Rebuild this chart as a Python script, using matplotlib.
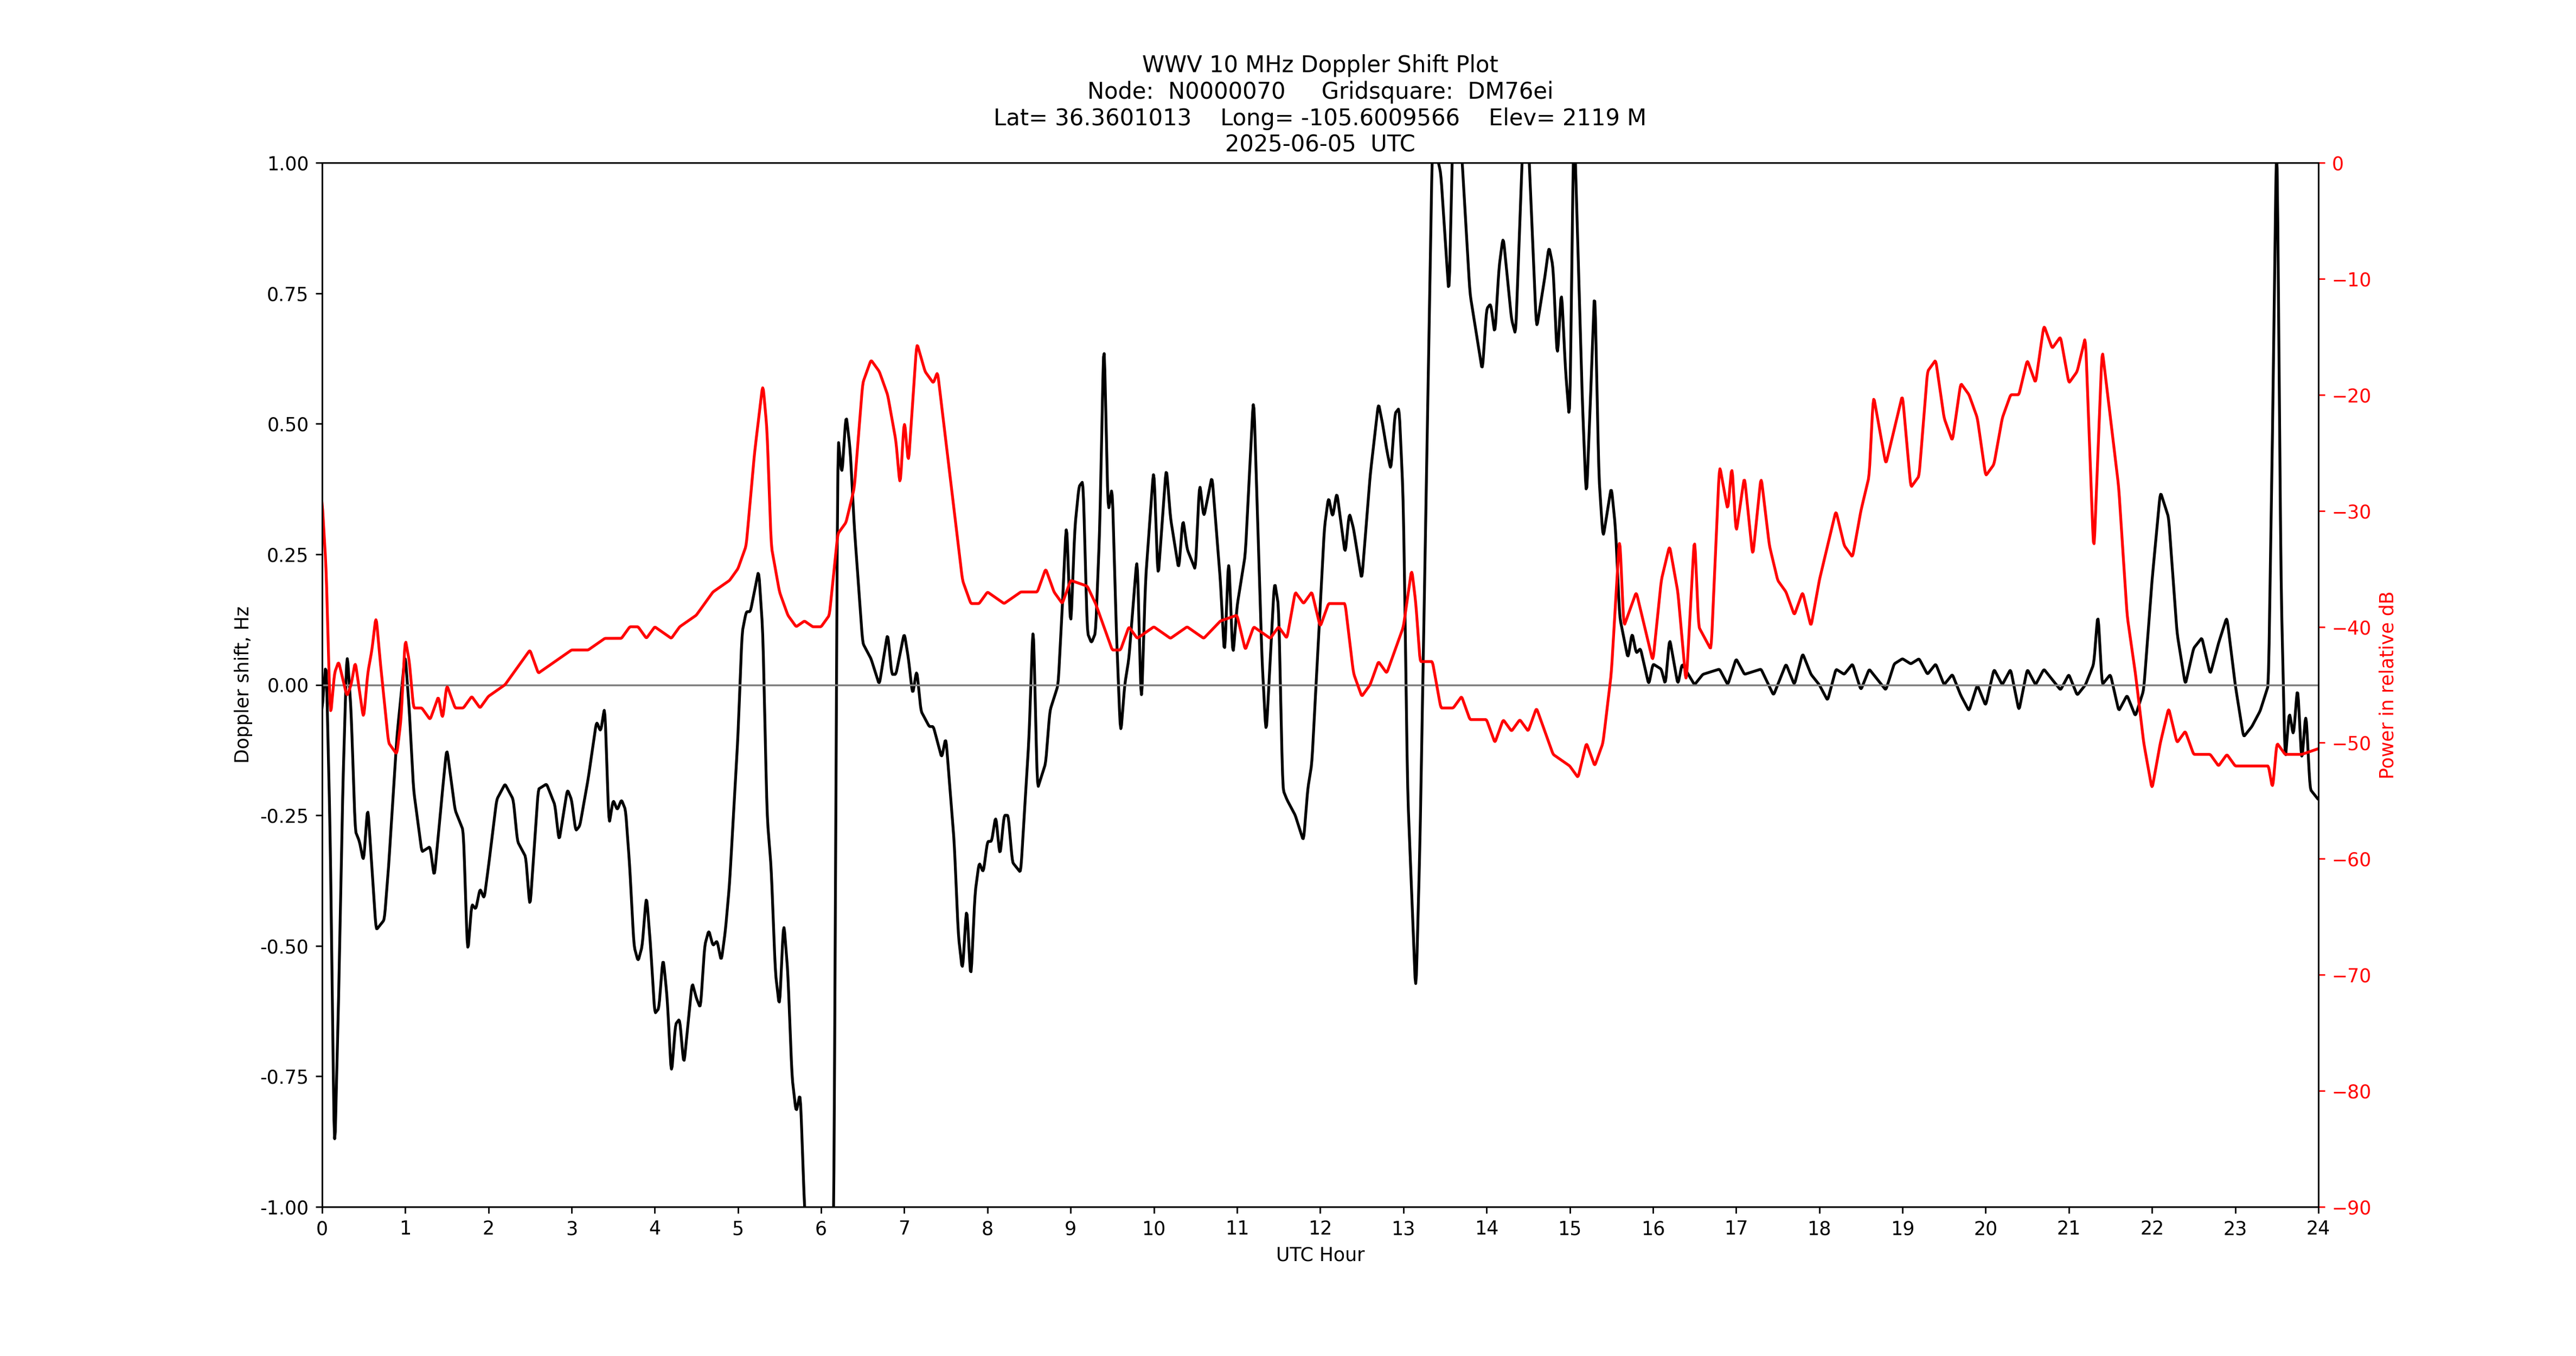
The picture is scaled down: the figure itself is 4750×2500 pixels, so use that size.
#!/usr/bin/env python3
import numpy as np
import matplotlib
matplotlib.use("Agg")
import matplotlib.pyplot as plt

# Doppler shift (Hz)
dop_hours = [0.0,0.05,0.1,0.15,0.2,0.25,0.3,0.35,0.4,0.45,0.5,0.55,0.6,0.65,0.7,0.75,0.8,0.9,1.0,1.05,1.1,1.2,1.3,1.35,1.45,1.5,1.6,1.7,1.75,1.8,1.85,1.9,1.95,2.0,2.1,2.2,2.3,2.35,2.45,2.5,2.6,2.7,2.8,2.85,2.95,3.0,3.05,3.1,3.2,3.3,3.35,3.4,3.45,3.5,3.55,3.6,3.65,3.7,3.75,3.8,3.85,3.9,3.95,4.0,4.05,4.1,4.15,4.2,4.25,4.3,4.35,4.4,4.45,4.5,4.55,4.6,4.65,4.7,4.75,4.8,4.85,4.9,5.0,5.05,5.1,5.15,5.2,5.25,5.3,5.35,5.4,5.45,5.5,5.55,5.6,5.65,5.7,5.75,5.8,5.85,6.0,6.15,6.2,6.25,6.3,6.35,6.4,6.5,6.6,6.7,6.8,6.85,6.9,7.0,7.05,7.1,7.15,7.2,7.3,7.35,7.45,7.5,7.55,7.6,7.65,7.7,7.75,7.8,7.85,7.9,7.95,8.0,8.05,8.1,8.15,8.2,8.25,8.3,8.4,8.5,8.55,8.6,8.7,8.75,8.85,8.9,8.95,9.0,9.05,9.1,9.15,9.2,9.25,9.3,9.35,9.4,9.45,9.5,9.55,9.6,9.65,9.7,9.8,9.85,9.9,10.0,10.05,10.15,10.2,10.3,10.35,10.4,10.5,10.55,10.6,10.7,10.8,10.85,10.9,10.95,11.0,11.1,11.2,11.3,11.35,11.45,11.5,11.55,11.6,11.7,11.8,11.85,11.9,11.95,12.0,12.05,12.1,12.15,12.2,12.3,12.35,12.4,12.5,12.6,12.7,12.75,12.8,12.85,12.9,12.95,13.0,13.05,13.15,13.2,13.3,13.35,13.45,13.55,13.6,13.7,13.8,13.85,13.95,14.0,14.05,14.1,14.15,14.2,14.3,14.35,14.45,14.5,14.6,14.7,14.75,14.8,14.85,14.9,14.95,15.0,15.05,15.15,15.2,15.25,15.3,15.35,15.4,15.5,15.55,15.6,15.7,15.75,15.8,15.85,15.95,16.0,16.1,16.15,16.2,16.3,16.35,16.5,16.6,16.8,16.9,17.0,17.1,17.3,17.45,17.6,17.7,17.8,17.9,18.0,18.1,18.2,18.3,18.4,18.5,18.6,18.8,18.9,19.0,19.1,19.2,19.3,19.4,19.5,19.6,19.7,19.8,19.9,20.0,20.1,20.2,20.3,20.4,20.5,20.6,20.7,20.9,21.0,21.1,21.2,21.3,21.35,21.4,21.5,21.6,21.7,21.8,21.9,22.0,22.1,22.2,22.3,22.4,22.5,22.6,22.7,22.8,22.9,23.0,23.1,23.2,23.3,23.4,23.45,23.5,23.55,23.6,23.65,23.7,23.75,23.8,23.85,23.9,24.0]
dop_hz = [-0.05,0.05,-0.3,-0.92,-0.6,-0.2,0.07,-0.05,-0.28,-0.3,-0.34,-0.23,-0.35,-0.47,-0.46,-0.45,-0.35,-0.1,0.06,-0.05,-0.2,-0.32,-0.31,-0.37,-0.2,-0.12,-0.24,-0.28,-0.52,-0.42,-0.43,-0.39,-0.41,-0.35,-0.22,-0.19,-0.22,-0.3,-0.33,-0.43,-0.2,-0.19,-0.23,-0.3,-0.2,-0.22,-0.28,-0.27,-0.18,-0.07,-0.09,-0.04,-0.27,-0.22,-0.24,-0.22,-0.24,-0.35,-0.5,-0.53,-0.5,-0.4,-0.5,-0.63,-0.62,-0.52,-0.6,-0.75,-0.65,-0.64,-0.73,-0.65,-0.57,-0.6,-0.62,-0.5,-0.47,-0.5,-0.49,-0.53,-0.47,-0.38,-0.1,0.1,0.14,0.14,0.18,0.22,0.1,-0.25,-0.35,-0.55,-0.62,-0.45,-0.55,-0.75,-0.82,-0.78,-1.0,-1.1,-1.2,-1.1,0.48,0.4,0.52,0.45,0.3,0.08,0.05,0.0,0.1,0.02,0.02,0.1,0.05,-0.02,0.03,-0.05,-0.08,-0.08,-0.14,-0.1,-0.2,-0.3,-0.48,-0.55,-0.42,-0.57,-0.4,-0.34,-0.36,-0.3,-0.3,-0.25,-0.33,-0.25,-0.25,-0.34,-0.36,-0.1,0.13,-0.2,-0.15,-0.05,0.0,0.15,0.32,0.1,0.3,0.38,0.39,0.1,0.08,0.1,0.3,0.68,0.33,0.38,0.1,-0.1,0.0,0.05,0.25,-0.05,0.2,0.42,0.2,0.42,0.32,0.22,0.32,0.26,0.22,0.39,0.32,0.4,0.2,0.05,0.25,0.05,0.15,0.25,0.56,0.05,-0.1,0.2,0.15,-0.2,-0.22,-0.25,-0.3,-0.2,-0.15,0.0,0.15,0.3,0.36,0.32,0.37,0.25,0.33,0.3,0.2,0.4,0.54,0.5,0.45,0.41,0.52,0.53,0.35,-0.2,-0.6,-0.3,0.6,1.05,0.98,0.74,1.1,1.02,0.75,0.7,0.6,0.72,0.73,0.67,0.8,0.86,0.7,0.67,1.1,1.05,0.68,0.78,0.84,0.8,0.62,0.76,0.6,0.5,1.1,0.55,0.35,0.55,0.77,0.4,0.28,0.38,0.3,0.13,0.05,0.1,0.06,0.07,0.0,0.04,0.03,0.0,0.09,0.0,0.04,0.0,0.02,0.03,0.0,0.05,0.02,0.03,-0.02,0.04,0.0,0.06,0.02,0.0,-0.03,0.03,0.02,0.04,-0.01,0.03,-0.01,0.04,0.05,0.04,0.05,0.02,0.04,0.0,0.02,-0.02,-0.05,0.0,-0.04,0.03,0.0,0.03,-0.05,0.03,0.0,0.03,-0.01,0.02,-0.02,0.0,0.04,0.14,0.0,0.02,-0.05,-0.02,-0.06,-0.01,0.2,0.37,0.32,0.1,0.0,0.07,0.09,0.02,0.08,0.13,0.0,-0.1,-0.08,-0.05,0.0,0.5,1.1,0.2,-0.15,-0.05,-0.1,0.0,-0.15,-0.05,-0.2,-0.22]

# Power (relative dB)
pwr_hours = [0.0,0.05,0.1,0.15,0.2,0.3,0.35,0.4,0.5,0.55,0.6,0.65,0.7,0.8,0.9,0.95,1.0,1.05,1.1,1.2,1.3,1.4,1.45,1.5,1.6,1.7,1.8,1.9,2.0,2.2,2.4,2.5,2.6,2.8,3.0,3.2,3.4,3.6,3.7,3.8,3.9,4.0,4.2,4.3,4.5,4.7,4.8,4.9,5.0,5.1,5.2,5.3,5.35,5.4,5.5,5.6,5.7,5.8,5.9,6.0,6.1,6.2,6.3,6.4,6.5,6.6,6.7,6.8,6.9,6.95,7.0,7.05,7.15,7.25,7.35,7.4,7.5,7.6,7.7,7.8,7.9,8.0,8.2,8.4,8.6,8.7,8.8,8.9,9.0,9.2,9.3,9.5,9.6,9.7,9.8,10.0,10.2,10.4,10.6,10.8,11.0,11.1,11.2,11.4,11.5,11.6,11.7,11.8,11.9,12.0,12.1,12.3,12.4,12.5,12.6,12.7,12.8,13.0,13.1,13.15,13.2,13.35,13.45,13.6,13.7,13.8,14.0,14.1,14.2,14.3,14.4,14.5,14.6,14.7,14.8,15.0,15.1,15.2,15.3,15.4,15.5,15.6,15.65,15.8,16.0,16.1,16.2,16.3,16.4,16.5,16.55,16.7,16.8,16.9,16.95,17.0,17.1,17.2,17.3,17.4,17.5,17.6,17.7,17.8,17.9,18.0,18.1,18.2,18.3,18.4,18.5,18.6,18.65,18.7,18.8,18.9,19.0,19.1,19.2,19.3,19.4,19.5,19.6,19.7,19.8,19.9,20.0,20.1,20.2,20.3,20.4,20.5,20.6,20.7,20.8,20.9,21.0,21.1,21.2,21.3,21.4,21.5,21.6,21.7,21.8,21.9,22.0,22.1,22.2,22.3,22.4,22.5,22.6,22.7,22.8,22.9,23.0,23.2,23.4,23.45,23.5,23.6,23.8,24.0]
pwr_db = [-29,-35,-48,-44,-43,-46,-45,-43,-48,-44,-42,-39,-43,-50,-51,-48,-41,-43,-47,-47,-48,-46,-48,-45,-47,-47,-46,-47,-46,-45,-43,-42,-44,-43,-42,-42,-41,-41,-40,-40,-41,-40,-41,-40,-39,-37,-36.5,-36,-35,-33,-25,-19,-23,-33,-37,-39,-40,-39.5,-40,-40,-39,-32,-31,-28,-19,-17,-18,-20,-24,-28,-22,-26,-15.5,-18,-19,-18,-24,-30,-36,-38,-38,-37,-38,-37,-37,-35,-37,-38,-36,-36.5,-38,-42,-42,-40,-41,-40,-41,-40,-41,-39.5,-39,-42,-40,-41,-40,-41,-37,-38,-37,-40,-38,-38,-44,-46,-45,-43,-44,-40,-35,-38,-43,-43,-47,-47,-46,-48,-48,-50,-48,-49,-48,-49,-47,-49,-51,-52,-53,-50,-52,-50,-44,-32,-40,-37,-43,-36,-33,-37,-45,-32,-40,-42,-26,-30,-26,-32,-27,-34,-27,-33,-36,-37,-39,-37,-40,-36,-33,-30,-33,-34,-30,-27,-20,-22,-26,-23,-20,-28,-27,-18,-17,-22,-24,-19,-20,-22,-27,-26,-22,-20,-20,-17,-19,-14,-16,-15,-19,-18,-15,-34,-16,-22,-28,-39,-44,-50,-54,-50,-47,-50,-49,-51,-51,-51,-52,-51,-52,-52,-52,-54,-50,-51,-51,-50.5]


def smooth(xp, fp, n=3000, k=3):
    x = np.linspace(0, 24, n)
    y = np.interp(x, xp, fp)
    w = np.ones(k) / k
    ys = np.convolve(np.pad(y, k // 2, mode="edge"), w, mode="valid")
    return x, ys


fig, ax = plt.subplots(figsize=(19, 10), dpi=250)
x, y = smooth(dop_hours, dop_hz)
ax.plot(x, y, color="black", lw=1.5)
ax.axhline(0, color="gray", lw=1)
ax.set_xlim(0, 24)
ax.set_ylim(-1, 1)
ax.set_xticks(range(25))
ax.set_yticks([-1, -0.75, -0.5, -0.25, 0, 0.25, 0.5, 0.75, 1])
ax.set_yticklabels([f"{v:.2f}" for v in [-1, -0.75, -0.5, -0.25, 0, 0.25, 0.5, 0.75, 1]])
ax.set_xlabel("UTC Hour")
ax.set_ylabel("Doppler shift, Hz")

ax2 = ax.twinx()
x2, y2 = smooth(pwr_hours, pwr_db)
ax2.plot(x2, y2, color="red", lw=1.5)
ax2.set_ylim(-90, 0)
ax2.set_ylabel("Power in relative dB", color="red")
ax2.tick_params(axis="y", colors="red")

ax.set_title("WWV 10 MHz Doppler Shift Plot\n"
             "Node:  N0000070     Gridsquare:  DM76ei\n"
             "Lat= 36.3601013    Long= -105.6009566    Elev= 2119 M\n"
             "2025-06-05  UTC")
fig.savefig("out.png")
